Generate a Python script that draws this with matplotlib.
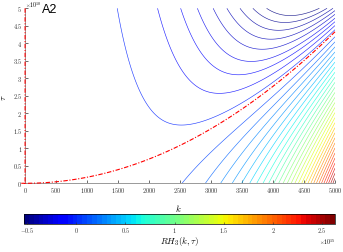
import numpy as np
import matplotlib
matplotlib.use('Agg')
import matplotlib.pyplot as plt
from matplotlib import ticker, colors, cm

plt.rcParams['mathtext.fontset'] = 'cm'
plt.rcParams['font.family'] = 'DejaVu Serif'

# ranges
K_MAX = 5000
TAU_MAX = 5e10
# red zero curve: tau = S0 * k^2 (about 4.33e10 at k = 5000)
S0 = 1732.0
# RH3 at (k=5000, tau=0) and colour bar limits
F_TOP = 2.63e15
C_LIM = [-0.53e15, 2.63e15]
K_POW = 5
# shape above the red curve, fitted to the outer U contour
H_A, H_B = 1.075, 1.382

# contour levels as fractions of F_TOP
LEV_POS = [n / 30 for n in range(1, 30)]
LEV_NEG = [-0.190, -0.171, -0.151, -0.130, -0.1085, -0.0855, -0.064, -0.040, -0.0135]

X_TICKS = [0, 500, 1000, 1500, 2000, 2500, 3000, 3500, 4000, 4500, 5000]
Y_TICKS = [0, 0.5, 1, 1.5, 2, 2.5, 3, 3.5, 4, 4.5, 5]          # x 1e10
C_TICKS = [-0.5, 0, 0.5, 1, 1.5, 2, 2.5]                       # x 1e15

# surface on a grid (k starts just below 0 so the k=0 zero line is drawn)
k = np.linspace(-60, K_MAX, 900)
tau = np.linspace(0, TAU_MAX, 700)
K, T = np.meshgrid(k, tau)
with np.errstate(divide='ignore', invalid='ignore'):
    r = T / (S0 * K**2)
    h = np.where(r > 1, (H_A + H_B / r) / (H_A + H_B), 1.0)
    F = F_TOP * (K / K_MAX)**K_POW * (1 - r) * h
F = np.nan_to_num(F)

fig = plt.figure(figsize=(3.43, 2.52), dpi=100)
ax = fig.add_axes([25 / 343, 1 - 183.3 / 252, 310 / 343, 175 / 252])

cmap = plt.get_cmap('jet', 64)
norm = colors.Normalize(*C_LIM)
levels = np.array(LEV_NEG + LEV_POS) * F_TOP
ax.contour(K, T, F, levels=levels, cmap=cmap, norm=norm, linewidths=0.45, alpha=0.85)
zero = ax.contour(K, T, F, levels=[0], colors='red', linewidths=0.8, zorder=3,
                  linestyles=[(0, (4, 1.5, 1, 1.5))])
zero.set_clip_on(False)

ax.set_xlim(0, K_MAX)
ax.set_ylim(0, TAU_MAX)
ax.set_xticks(X_TICKS)
ax.set_yticks([v * 1e10 for v in Y_TICKS])
ax.xaxis.set_major_formatter(ticker.FuncFormatter(lambda v, p: f'${v:g}$'))
ax.yaxis.set_major_formatter(ticker.FuncFormatter(lambda v, p: f'${v / 1e10:g}$'))
ax.tick_params(direction='in', length=2, width=0.5, labelsize=4.5, pad=2,
               colors='#333333')
for s in ['top', 'right']:
    ax.spines[s].set_visible(False)
for s in ['left', 'bottom']:
    ax.spines[s].set_color('#999999')
    ax.spines[s].set_linewidth(0.7)

ax.set_xlabel(r'$k$', fontsize=6.5)
ax.xaxis.set_label_coords(0.494, -0.115)
ax.set_ylabel(r'$\tau$', fontsize=6.5)
ax.yaxis.set_label_coords(-0.055, 0.49)

fig.text(25 / 343, 1 - 7.5 / 252, r'$\times10^{10}$', fontsize=4.2, va='baseline', ha='left')
fig.text(41.5 / 343, 1 - 13 / 252, 'A2', fontsize=9, family='Liberation Sans',
         va='baseline', ha='left')

# colour bar
cax = fig.add_axes([24 / 343, 1 - 224.3 / 252, 311 / 343, 10 / 252])
sm = cm.ScalarMappable(norm=norm, cmap=cmap)
cb = fig.colorbar(sm, cax=cax, orientation='horizontal')
cb.set_ticks([v * 1e15 for v in C_TICKS])
cb.ax.xaxis.set_major_formatter(ticker.FuncFormatter(lambda v, p: f'${v / 1e15:g}$'))
cb.ax.tick_params(direction='in', length=1.5, width=0.4, labelsize=4.5, pad=1.5,
                  colors='#333333')
cb.outline.set_linewidth(0.5)
cb.set_label(r'$RH_3(k,\tau)$', fontsize=6.5, labelpad=0)
fig.text(335 / 343, 1 - 245 / 252, r'$\times10^{15}$', fontsize=4.2, va='baseline', ha='right')

fig.savefig('out.png', dpi=100)
